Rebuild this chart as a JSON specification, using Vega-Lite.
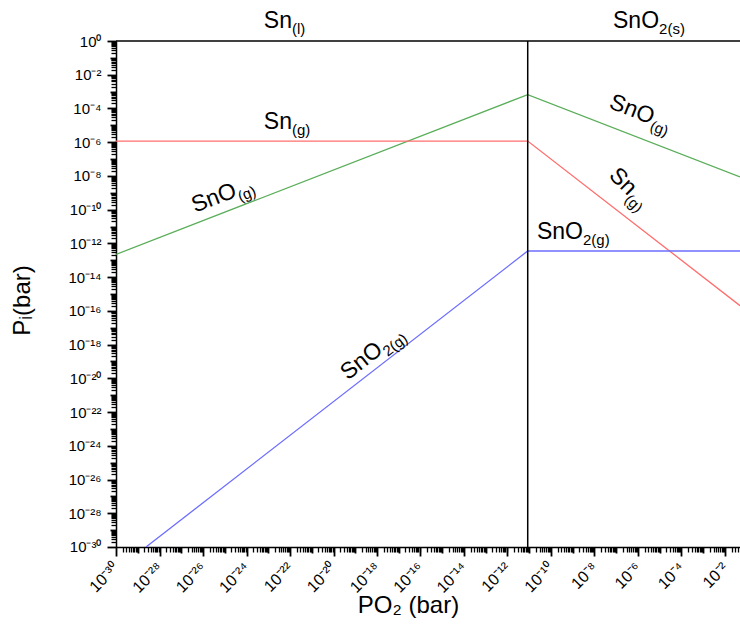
{
  "$schema": "https://vega.github.io/schema/vega-lite/v6.json",
  "width": 624,
  "height": 506,
  "autosize": {"type": "none"},
  "padding": {"left": 116, "top": 41, "right": 0, "bottom": 85},
  "background": "white",
  "config": {
    "font": "Liberation Sans",
    "view": {"stroke": null},
    "axis": {"grid": false, "domainColor": "black", "tickColor": "black", "labelColor": "black", "titleColor": "black", "labelFont": "Liberation Sans", "titleFont": "Liberation Sans", "titleFontWeight": "normal"}
  },
  "datasets": {
    "curves": [
      {"species": "SnO", "x": 1e-30, "y": 2.24e-13},
      {"species": "SnO", "x": 8.51e-12, "y": 6.61e-4},
      {"species": "SnO", "x": 0.049, "y": 8.71e-9},
      {"species": "Sn", "x": 1e-30, "y": 1.17e-6},
      {"species": "Sn", "x": 8.51e-12, "y": 1.17e-6},
      {"species": "Sn", "x": 0.049, "y": 2.04e-16},
      {"species": "SnO2", "x": 2.4e-29, "y": 1e-30},
      {"species": "SnO2", "x": 8.51e-12, "y": 3.55e-13},
      {"species": "SnO2", "x": 0.049, "y": 3.55e-13}
    ],
    "phase": [{"boundary": 8.51e-12, "top": 1}],
    "labels": [
      {"id": "snl", "main": "Sn", "sub": "(l)", "x": 1.23e-22, "y": 5.6},
      {"id": "sno2s", "main": "SnO", "sub": "2(s)", "x": 9.3e-6, "y": 5.6},
      {"id": "sng1", "main": "Sn", "sub": "(g)", "x": 1.23e-22, "y": 5.9e-6},
      {"id": "sno1", "main": "SnO", "sub": "(g)", "x": 4.07e-25, "y": 6.2e-10},
      {"id": "sno2g1", "main": "SnO", "sub": "2(g)", "x": 2.1e-18, "y": 3.5e-19},
      {"id": "sno2", "main": "SnO", "sub": "(g)", "x": 3.98e-6, "y": 1.15e-5},
      {"id": "sng2", "main": "Sn", "sub": "(g)", "x": 3.47e-7, "y": 6.2e-10},
      {"id": "sno2g2", "main": "SnO", "sub": "2(g)", "x": 2.95e-9, "y": 1.95e-12}
    ]
  },
  "layer": [
    {
      "data": {"name": "curves"},
      "mark": {"type": "line", "strokeWidth": 1.3, "clip": true},
      "encoding": {
        "x": {"field": "x", "type": "quantitative",
          "scale": {"type": "log", "domain": [9.99e-31, 0.049], "nice": false},
          "axis": {"orient": "bottom", "tickCount": 100,
            "labelExpr": "abs(log(datum.value)/LN10 - round(log(datum.value)/LN10)) > 0.001 || round(log(datum.value)/LN10) % 2 != 0 ? '' : '10' + replace(replace(replace(replace(replace(replace(replace(replace(replace(replace(replace('' + round(log(datum.value)/LN10), regexp('-','g'), '⁻'), regexp('0','g'), '⁰'), regexp('1','g'), '¹'), regexp('2','g'), '²'), regexp('3','g'), '³'), regexp('4','g'), '⁴'), regexp('5','g'), '⁵'), regexp('6','g'), '⁶'), regexp('7','g'), '⁷'), regexp('8','g'), '⁸'), regexp('9','g'), '⁹')",
            "labelAngle": -45, "labelAlign": "right", "labelBaseline": "middle", "labelFontSize": 16, "labelPadding": 9,
            "tickSize": {"condition": [{"test": "abs(log(datum.value)/LN10 - round(log(datum.value)/LN10)) > 0.001", "value": 5}, {"test": "round(log(datum.value)/LN10) % 2 != 0", "value": 6}], "value": 9},
            "tickWidth": {"condition": {"test": "abs(log(datum.value)/LN10 - round(log(datum.value)/LN10)) > 0.001", "value": 1.3}, "value": 1.8},
            "domainWidth": 1.5, "labelOverlap": false,
            "title": "PO₂ (bar)", "titleFontSize": 24, "titleX": 292, "titleY": 58, "titleBaseline": "middle", "titleAlign": "center"}},
        "y": {"field": "y", "type": "quantitative",
          "scale": {"type": "log", "domain": [9.99e-31, 1], "nice": false},
          "axis": {"orient": "left", "tickCount": 100,
            "labelExpr": "abs(log(datum.value)/LN10 - round(log(datum.value)/LN10)) > 0.001 || round(log(datum.value)/LN10) % 2 != 0 ? '' : '10' + replace(replace(replace(replace(replace(replace(replace(replace(replace(replace(replace('' + round(log(datum.value)/LN10), regexp('-','g'), '⁻'), regexp('0','g'), '⁰'), regexp('1','g'), '¹'), regexp('2','g'), '²'), regexp('3','g'), '³'), regexp('4','g'), '⁴'), regexp('5','g'), '⁵'), regexp('6','g'), '⁶'), regexp('7','g'), '⁷'), regexp('8','g'), '⁸'), regexp('9','g'), '⁹')",
            "labelFontSize": 15, "labelPadding": 6, "labelBaseline": "middle",
            "tickSize": {"condition": [{"test": "abs(log(datum.value)/LN10 - round(log(datum.value)/LN10)) > 0.001", "value": 5}, {"test": "round(log(datum.value)/LN10) % 2 != 0", "value": 6}], "value": 9},
            "tickWidth": {"condition": {"test": "abs(log(datum.value)/LN10 - round(log(datum.value)/LN10)) > 0.001", "value": 1.3}, "value": 1.8},
            "domainWidth": 1.5, "labelOverlap": false,
            "title": "Pᵢ(bar)", "titleFontSize": 24, "titleX": -94, "titleY": 259, "titleAngle": -90, "titleBaseline": "middle", "titleAlign": "center"}},
        "color": {"field": "species", "type": "nominal",
          "scale": {"domain": ["Sn", "SnO", "SnO2"], "range": ["#ff6e6e", "#5aae5a", "#6e6eff"]},
          "legend": null}
      }
    },
    {
      "data": {"name": "phase"},
      "mark": {"type": "rule", "color": "black", "strokeWidth": 1.5},
      "encoding": {
        "x": {"field": "boundary", "type": "quantitative", "scale": {"type": "log", "domain": [9.99e-31, 0.049], "nice": false}, "axis": null}
      }
    },
    {
      "data": {"name": "phase"},
      "mark": {"type": "rule", "color": "black", "strokeWidth": 1.5},
      "encoding": {
        "y": {"field": "top", "type": "quantitative", "scale": {"type": "log", "domain": [9.99e-31, 1], "nice": false}, "axis": null}
      }
    },
    {
      "data": {"name": "labels"},
      "transform": [{"filter": {"field": "id", "oneOf": ["snl", "sno2s", "sng1", "sno2g2"]}}],
      "layer": [
        {"mark": {"type": "text", "align": "right", "baseline": "alphabetic", "fontSize": 23, "color": "black"},
         "encoding": {"text": {"field": "main"}}},
        {"mark": {"type": "text", "align": "left", "baseline": "alphabetic", "fontSize": 15, "dy": 6, "color": "black"},
         "encoding": {"text": {"field": "sub"}}}
      ],
      "encoding": {
        "x": {"field": "x", "type": "quantitative", "scale": {"type": "log", "domain": [9.99e-31, 0.049], "nice": false}, "axis": null},
        "y": {"field": "y", "type": "quantitative", "scale": {"type": "log", "domain": [9.99e-31, 1], "nice": false}, "axis": null}
      }
    },
    {
      "data": {"name": "labels"},
      "transform": [{"filter": {"field": "id", "equal": "sno1"}}],
      "layer": [
        {"mark": {"type": "text", "align": "right", "baseline": "alphabetic", "fontSize": 23, "angle": -21, "color": "black"},
         "encoding": {"text": {"field": "main"}}},
        {"mark": {"type": "text", "align": "left", "baseline": "alphabetic", "fontSize": 15, "angle": -21, "dy": 6, "color": "black"},
         "encoding": {"text": {"field": "sub"}}}
      ],
      "encoding": {
        "x": {"field": "x", "type": "quantitative", "scale": {"type": "log", "domain": [9.99e-31, 0.049], "nice": false}, "axis": null},
        "y": {"field": "y", "type": "quantitative", "scale": {"type": "log", "domain": [9.99e-31, 1], "nice": false}, "axis": null}
      }
    },
    {
      "data": {"name": "labels"},
      "transform": [{"filter": {"field": "id", "equal": "sno2g1"}}],
      "layer": [
        {"mark": {"type": "text", "align": "right", "baseline": "alphabetic", "fontSize": 23, "angle": -38, "color": "black"},
         "encoding": {"text": {"field": "main"}}},
        {"mark": {"type": "text", "align": "left", "baseline": "alphabetic", "fontSize": 15, "angle": -38, "dy": 6, "color": "black"},
         "encoding": {"text": {"field": "sub"}}}
      ],
      "encoding": {
        "x": {"field": "x", "type": "quantitative", "scale": {"type": "log", "domain": [9.99e-31, 0.049], "nice": false}, "axis": null},
        "y": {"field": "y", "type": "quantitative", "scale": {"type": "log", "domain": [9.99e-31, 1], "nice": false}, "axis": null}
      }
    },
    {
      "data": {"name": "labels"},
      "transform": [{"filter": {"field": "id", "equal": "sno2"}}],
      "layer": [
        {"mark": {"type": "text", "align": "right", "baseline": "alphabetic", "fontSize": 23, "angle": 21, "color": "black"},
         "encoding": {"text": {"field": "main"}}},
        {"mark": {"type": "text", "align": "left", "baseline": "alphabetic", "fontSize": 15, "angle": 21, "dy": 6, "color": "black"},
         "encoding": {"text": {"field": "sub"}}}
      ],
      "encoding": {
        "x": {"field": "x", "type": "quantitative", "scale": {"type": "log", "domain": [9.99e-31, 0.049], "nice": false}, "axis": null},
        "y": {"field": "y", "type": "quantitative", "scale": {"type": "log", "domain": [9.99e-31, 1], "nice": false}, "axis": null}
      }
    },
    {
      "data": {"name": "labels"},
      "transform": [{"filter": {"field": "id", "equal": "sng2"}}],
      "layer": [
        {"mark": {"type": "text", "align": "right", "baseline": "alphabetic", "fontSize": 23, "angle": 45, "color": "black"},
         "encoding": {"text": {"field": "main"}}},
        {"mark": {"type": "text", "align": "left", "baseline": "alphabetic", "fontSize": 15, "angle": 45, "dy": 6, "color": "black"},
         "encoding": {"text": {"field": "sub"}}}
      ],
      "encoding": {
        "x": {"field": "x", "type": "quantitative", "scale": {"type": "log", "domain": [9.99e-31, 0.049], "nice": false}, "axis": null},
        "y": {"field": "y", "type": "quantitative", "scale": {"type": "log", "domain": [9.99e-31, 1], "nice": false}, "axis": null}
      }
    }
  ],
  "resolve": {"axis": {"x": "independent", "y": "independent"}}
}
